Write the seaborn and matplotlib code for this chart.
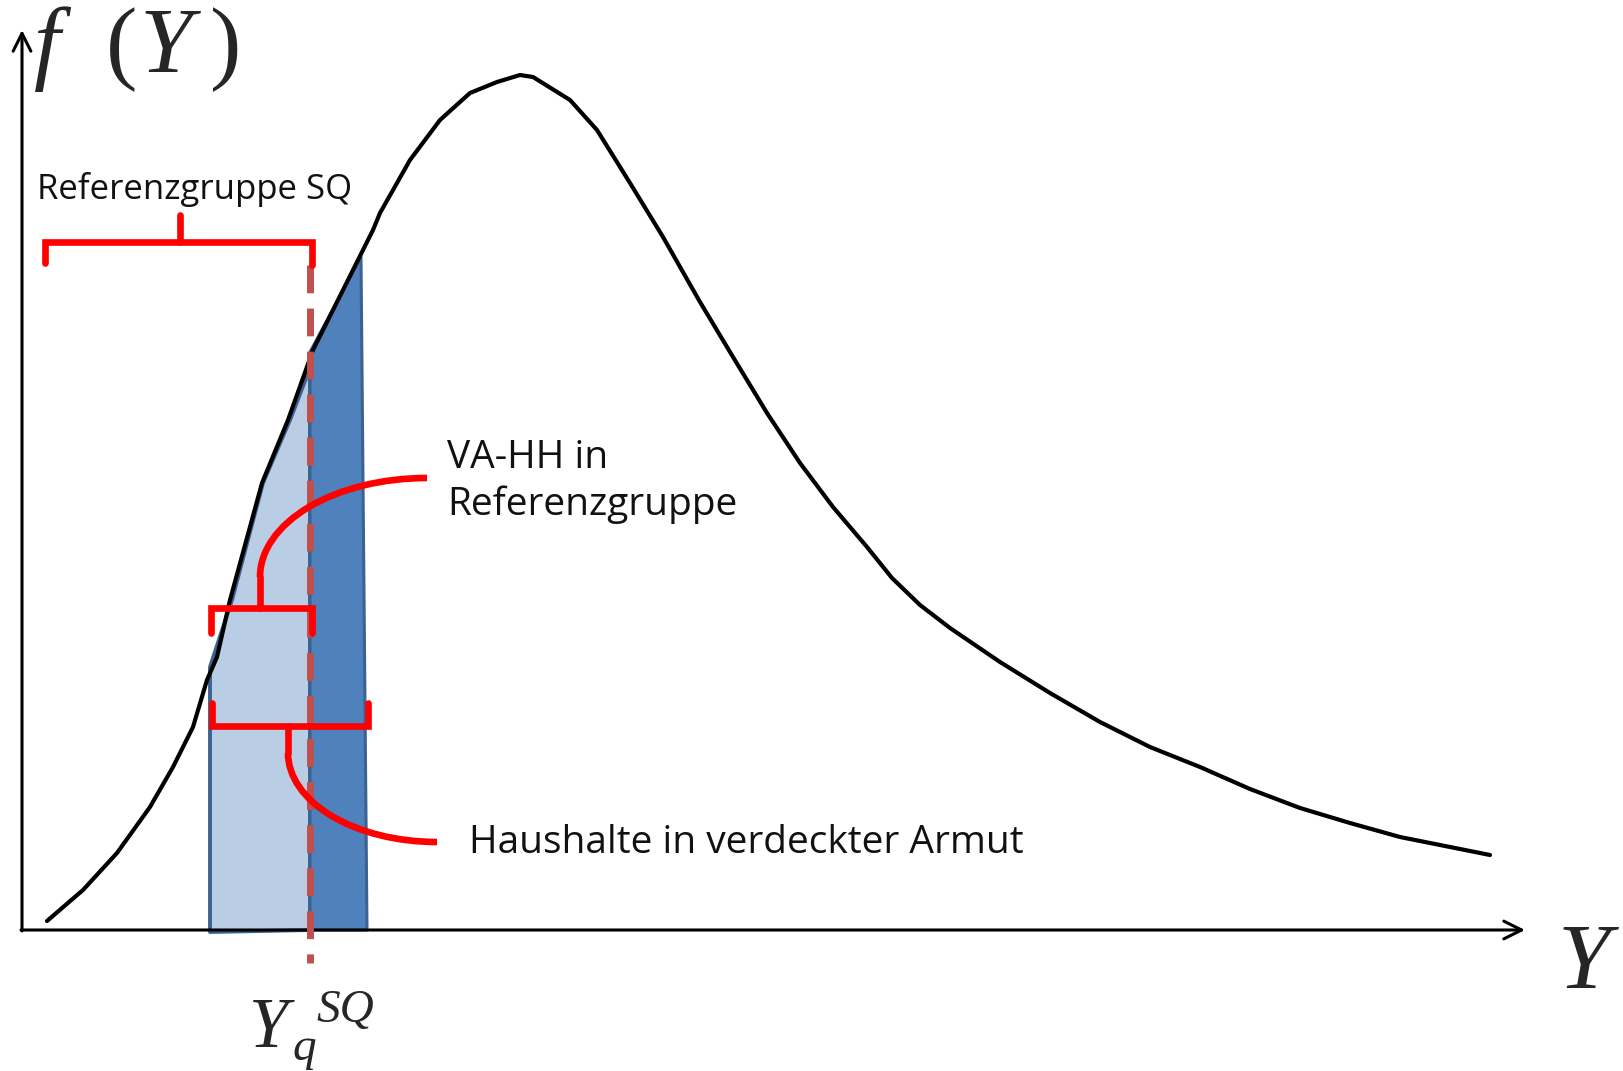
import numpy as np
import pandas as pd
import seaborn as sns
import matplotlib.pyplot as plt
from matplotlib.patches import Arc, Polygon

# density curve f(Y) (pixel units, y grows downward)
curve_x = [47, 83, 117, 150, 173, 193, 207, 217, 230, 262, 288, 313, 358, 373, 380,
           410, 440, 470, 497, 520, 533, 570, 597, 630, 663, 700, 733, 767, 800, 833,
           867, 892, 920, 950, 1000, 1050, 1100, 1150, 1200, 1250, 1300, 1350, 1400,
           1450, 1490]
curve_y = [921, 890, 853, 807, 767, 727, 680, 657, 600, 483, 420, 350, 260, 230, 213,
           160, 120, 93, 82, 75, 77, 100, 130, 183, 237, 302, 357, 413, 463, 507,
           547, 578, 605, 628, 662, 693, 722, 747, 767, 789, 808, 823, 837, 847, 855]

# shaded areas
light_x = [210, 210, 232, 263, 290, 310, 310]
light_y = [932, 667, 600, 483, 420, 368, 930]
dark_x = [310, 310, 361, 367]
dark_y = [930, 352, 257, 930]

yq_x = 310          # position of Y_q^SQ
dash_top, dash_bottom = 265, 963

x_axis_y = 930
y_axis_x = 22

df = pd.DataFrame({"Y": curve_x, "f": curve_y})

sns.set_theme(style="white")

fig = plt.figure(figsize=(16.24, 10.71), dpi=100)
ax = fig.add_axes([0, 0, 1, 1])
ax.set_xlim(0, 1624)
ax.set_ylim(1071, 0)
ax.axis("off")

# fills
ax.add_patch(Polygon(list(zip(light_x, light_y)), closed=True, fc="#b9cde5",
                     ec="#3b6291", lw=2.8, zorder=2, joinstyle="round"))
ax.add_patch(Polygon(list(zip(dark_x, dark_y)), closed=True, fc="#4f81bd",
                     ec="#3b6291", lw=2.2, zorder=2, joinstyle="round"))

# curve
sns.lineplot(data=df, x="Y", y="f", sort=False, estimator=None, color="black",
             lw=3, ax=ax, zorder=3)
ax.set_xlabel("")
ax.set_ylabel("")

# axes with arrows
arrow = dict(arrowstyle="->", lw=2.2, color="black", mutation_scale=32,
             shrinkA=0, shrinkB=0)
ax.annotate("", xy=(y_axis_x, 30), xytext=(y_axis_x, x_axis_y + 1), arrowprops=arrow)
ax.annotate("", xy=(1525, x_axis_y), xytext=(y_axis_x - 1, x_axis_y), arrowprops=arrow)

# dashed quantile line
ax.plot([yq_x, yq_x], [dash_top, dash_bottom], color="#c0504d", lw=5,
        dashes=(4, 2.2), zorder=4, solid_capstyle="butt")

red = "#ff0000"
lw_red = 4.8
# bracket: Referenzgruppe SQ
ax.plot([45, 45, 312, 312], [263, 242, 242, 265], color=red, lw=lw_red,
        solid_joinstyle="miter", zorder=5)
ax.plot([180, 180], [215, 242], color=red, lw=lw_red, zorder=5)

# small bracket: VA-HH in Referenzgruppe
ax.plot([211, 211, 312, 312], [633, 608, 608, 633], color=red, lw=lw_red,
        solid_joinstyle="miter", zorder=5)
ax.plot([260, 260], [608, 577], color=red, lw=lw_red, zorder=5)
ax.add_patch(Arc((427, 577), 2 * 167, 2 * 99, theta1=180, theta2=270,
                 color=red, lw=lw_red, zorder=5))

# lower bracket: Haushalte in verdeckter Armut
ax.plot([212, 212, 368, 368], [703, 726, 726, 703], color=red, lw=lw_red,
        solid_joinstyle="miter", zorder=5)
ax.plot([288, 288], [726, 753], color=red, lw=lw_red, zorder=5)
ax.add_patch(Arc((437, 753), 2 * 149, 2 * 89, theta1=90, theta2=180,
                 color=red, lw=lw_red, zorder=5))

# texts
sans = "Open Sans"
ax.text(37, 199, "Referenzgruppe SQ", fontsize=25, family=sans, va="baseline",
        color="#111111")
ax.text(447, 468, "VA-HH in", fontsize=28, family=sans, va="baseline", color="#111111")
ax.text(447, 515, "Referenzgruppe", fontsize=28, family=sans, va="baseline",
        color="#111111")
ax.text(469, 853, "Haushalte in verdeckter Armut", fontsize=28, family=sans,
        va="baseline", color="#111111")

serif = "Liberation Serif"
ax.text(34, 72, "f", fontsize=68, family=serif, style="italic", va="baseline")
ax.text(106, 72, "(", fontsize=68, family=serif, va="baseline")
ax.text(140, 72, "Y", fontsize=68, family=serif, style="italic", va="baseline")
ax.text(210, 72, ")", fontsize=68, family=serif, va="baseline")

ax.text(1558, 988, "Y", fontsize=68, family=serif, style="italic", va="baseline")
ax.text(249, 1047, "Y", fontsize=51, family=serif, style="italic", va="baseline")
ax.text(316, 1022, "SQ", fontsize=34, family=serif, style="italic", va="baseline")
ax.text(292, 1060, "q", fontsize=34, family=serif, style="italic", va="baseline")

fig.savefig("out.png", dpi=100)
